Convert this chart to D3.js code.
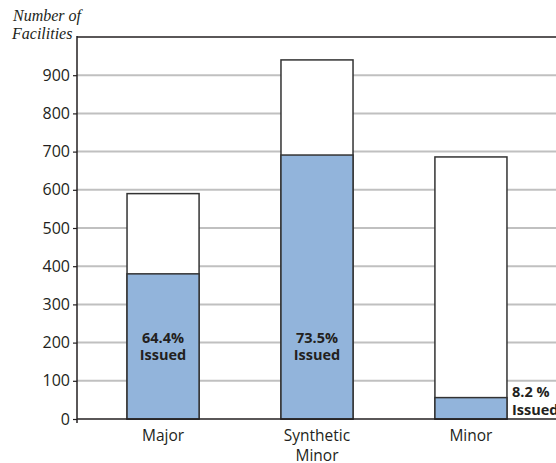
<!DOCTYPE html>
<html><head><meta charset="utf-8">
<script src="https://cdn.jsdelivr.net/npm/d3@7"></script>
<style>body{margin:0;background:#fff}svg{display:block}</style>
</head><body>
<svg id="c" width="556" height="463"></svg>
<script>
const categories = ["Major", "Synthetic Minor", "Minor"];
const totalFacilities = [590, 940, 686];
const issuedFacilities = [380, 691, 56];
const issuedLabels = ["64.4%", "73.5%", "8.2 %"];
const yTicks = [0, 100, 200, 300, 400, 500, 600, 700, 800, 900];

(function () {
const svg = d3.select("#c");
const mLeft = 77, mRight = 557, mTop = 37, mBottom = 419;
const y = d3.scaleLinear().domain([0, 1000]).range([mBottom, mTop]);
const x = d3.scaleBand().domain(categories).range([mLeft, mRight]).paddingInner(0.532).paddingOuter(0.325);
const font = "'Open Sans', 'Noto Sans', sans-serif";
const ink = "#231f20";

// gridlines
svg.append("g").selectAll("line").data(yTicks.filter(d => d > 0)).join("line")
  .attr("x1", mLeft).attr("x2", 556).attr("y1", d => y(d)).attr("y2", d => y(d))
  .attr("stroke", "#c0c0c0").attr("stroke-width", 2);
// top border line
svg.append("line").attr("x1", mLeft).attr("x2", 556).attr("y1", y(1000)).attr("y2", y(1000))
  .attr("stroke", ink).attr("stroke-width", 1.5);

// bars
const g = svg.append("g");
categories.forEach((c, i) => {
  g.append("rect").attr("x", x(c)).attr("width", x.bandwidth())
    .attr("y", y(totalFacilities[i])).attr("height", y(0) - y(totalFacilities[i]))
    .attr("fill", "#fff").attr("stroke", "#333").attr("stroke-width", 1.5);
  g.append("rect").attr("x", x(c)).attr("width", x.bandwidth())
    .attr("y", y(issuedFacilities[i])).attr("height", y(0) - y(issuedFacilities[i]))
    .attr("fill", "#92b4db").attr("stroke", "#333").attr("stroke-width", 1.5);
});

// y axis
const yAxis = svg.append("g").attr("transform", `translate(${mLeft},0)`)
  .call(d3.axisLeft(y).tickValues(yTicks).tickSize(4).tickPadding(3));
yAxis.select(".domain").remove();
yAxis.selectAll(".tick line").attr("stroke", ink).attr("stroke-width", 1.2);
yAxis.selectAll("text").attr("font-family", font).attr("font-size", 16).attr("fill", ink);
svg.append("line").attr("x1", mLeft).attr("x2", mLeft).attr("y1", mTop - 1).attr("y2", mBottom + 4)
  .attr("stroke", ink).attr("stroke-width", 1.5);
// x baseline
svg.append("line").attr("x1", mLeft).attr("x2", 556).attr("y1", mBottom).attr("y2", mBottom)
  .attr("stroke", ink).attr("stroke-width", 1.5);

// x labels
categories.forEach(c => {
  const words = c === "Synthetic Minor" ? ["Synthetic", "Minor"] : [c];
  const cx = x(c) + x.bandwidth() / 2;
  const t = svg.append("text").attr("x", cx).attr("y", 441)
    .attr("text-anchor", "middle").attr("font-family", font).attr("font-size", 15.5).attr("fill", ink);
  words.forEach((w, k) => t.append("tspan").attr("x", cx).attr("dy", k ? 20 : 0).text(w));
});

// issued labels
categories.forEach((c, i) => {
  let tx, anchor, ty, lh;
  if (i < 2) { tx = x(c) + x.bandwidth() / 2; anchor = "middle"; ty = 342.5; lh = 17; }
  else { tx = x(c) + x.bandwidth() + 5; anchor = "start"; ty = 397; lh = 18; }
  const t = svg.append("text").attr("x", tx).attr("y", ty).attr("text-anchor", anchor)
    .attr("font-family", font).attr("font-size", 14.5).attr("font-weight", "bold").attr("fill", ink);
  t.append("tspan").attr("x", tx).text(issuedLabels[i]);
  t.append("tspan").attr("x", tx).attr("dy", lh).text("Issued");
});

// axis title
const at = svg.append("text").attr("font-family", "'Liberation Serif', 'DejaVu Serif', serif")
  .attr("font-style", "italic").attr("font-size", 16).attr("fill", ink);
at.append("tspan").attr("x", 13).attr("y", 21).text("Number of");
at.append("tspan").attr("x", 12).attr("y", 39).text("Facilities");
})();
</script>
</body></html>
